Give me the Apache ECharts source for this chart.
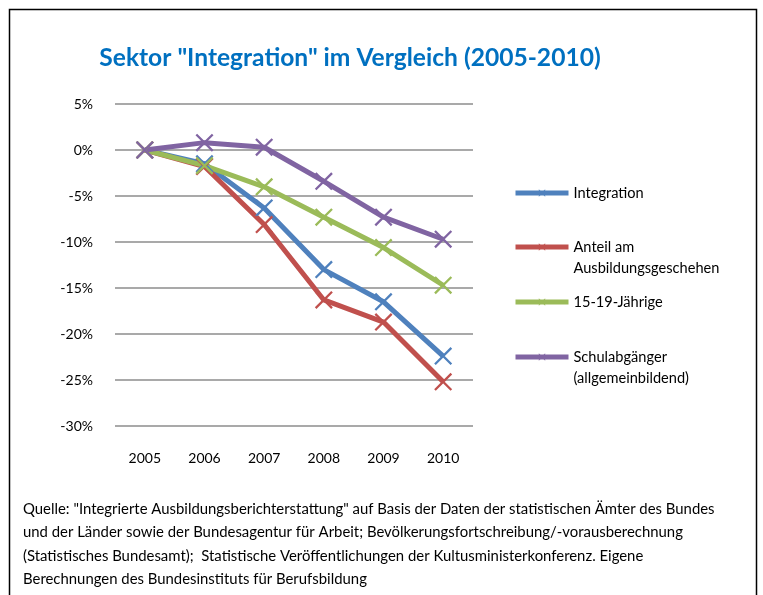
<!DOCTYPE html>
<html><head><meta charset="utf-8">
<script src="https://cdn.jsdelivr.net/npm/echarts@6/dist/echarts.min.js"></script>
<style>html,body{margin:0;padding:0;background:#fff}#c{width:763px;height:595px}</style>
</head><body><div id="c"></div>
<script>
const years = ['2005','2006','2007','2008','2009','2010'];
const integration = [0, -1.5, -6.3, -13.0, -16.5, -22.4];
const anteil = [0, -1.8, -8.1, -16.3, -18.7, -25.2];
const jaehrige = [0, -1.7, -4.0, -7.3, -10.6, -14.7];
const schulabgaenger = [0, 0.8, 0.3, -3.4, -7.3, -9.7];
const seriesNames = ['Integration', 'Anteil am Ausbildungsgeschehen', '15-19-Jährige', 'Schulabgänger (allgemeinbildend)'];
const legendLabels = ['Integration', 'Anteil am\nAusbildungsgeschehen', '15-19-Jährige', 'Schulabgänger\n(allgemeinbildend)'];
const yTicks = [5, 0, -5, -10, -15, -20, -25, -30];
const titleText = 'Sektor "Integration" im Vergleich (2005-2010)';
const sourceText = 'Quelle: "Integrierte Ausbildungsberichterstattung" auf Basis der Daten der statistischen Ämter des Bundes\nund der Länder sowie der Bundesagentur für Arbeit; Bevölkerungsfortschreibung/-vorausberechnung\n(Statistisches Bundesamt);  Statistische Veröffentlichungen der Kultusministerkonferenz. Eigene\nBerechnungen des Bundesinstituts für Berufsbildung';

const colors = ['#4F81BD', '#C0504D', '#9BBB59', '#8064A2'];
const values = [integration, anteil, jaehrige, schulabgaenger];
const FONT = 'Lato';
const X = 'path://M0,0.9 L0.9,0 L10,9.1 L9.1,10 Z M9.1,0 L10,0.9 L0.9,10 L0,9.1 Z';

const LH = 21;
const legendCenters = [193, 247, 302, 357];
const legends = seriesNames.map((n, i) => {
  const twoLine = legendLabels[i].includes('\n');
  const label = twoLine ? '\n' + legendLabels[i] : legendLabels[i];
  const nLines = label.split('\n').length;
  return {
    data: [n], left: 513, top: legendCenters[i] - nLines * LH / 2, orient: 'vertical',
    padding: 0, itemWidth: 53, itemHeight: 9, itemGap: 0,
    lineStyle: { width: 5 },
    formatter: () => label,
    textStyle: { fontFamily: FONT, fontSize: 14.6, color: '#000', lineHeight: LH }
  };
});

const chart = echarts.init(document.getElementById('c'), null, { renderer: 'canvas' });
chart.setOption({
  animation: false,
  color: colors,
  title: { text: titleText, left: 345, textAlign: 'center', top: 41,
    textStyle: { fontFamily: FONT, fontSize: 24.6, fontWeight: 'bold', color: '#0070C0' } },
  legend: legends,
  grid: { left: 115, right: 290, top: 104, bottom: 169 },
  xAxis: { type: 'category', data: years, boundaryGap: true,
    axisLine: { show: false }, axisTick: { show: false },
    axisLabel: { color: '#000', fontFamily: FONT, fontSize: 14, margin: 25 } },
  yAxis: { type: 'value', min: -30, max: 5, interval: 5,
    axisLine: { show: false }, axisTick: { show: false },
    splitLine: { lineStyle: { color: '#8c8c8c', width: 1.5 } },
    axisLabel: { color: '#000', fontFamily: FONT, fontSize: 14, margin: 22,
      formatter: v => yTicks.includes(v) ? v + '%' : '' } },
  series: seriesNames.map((n, i) => ({
    name: n, type: 'line', data: values[i],
    symbol: X, symbolSize: 18, showAllSymbol: true,
    lineStyle: { width: 5, color: colors[i] },
    itemStyle: { color: colors[i] }
  })),
  graphic: [
    { type: 'rect', shape: { x: 9.5, y: 9.5, width: 747, height: 620 },
      style: { fill: 'none', stroke: '#000', lineWidth: 1.5 }, silent: true, z: -1 },
    { type: 'text', left: 23, top: 497,
      style: { text: sourceText, fontFamily: FONT, fontSize: 14.9, lineHeight: 23.5, fill: '#000' } }
  ]
});
</script></body></html>
